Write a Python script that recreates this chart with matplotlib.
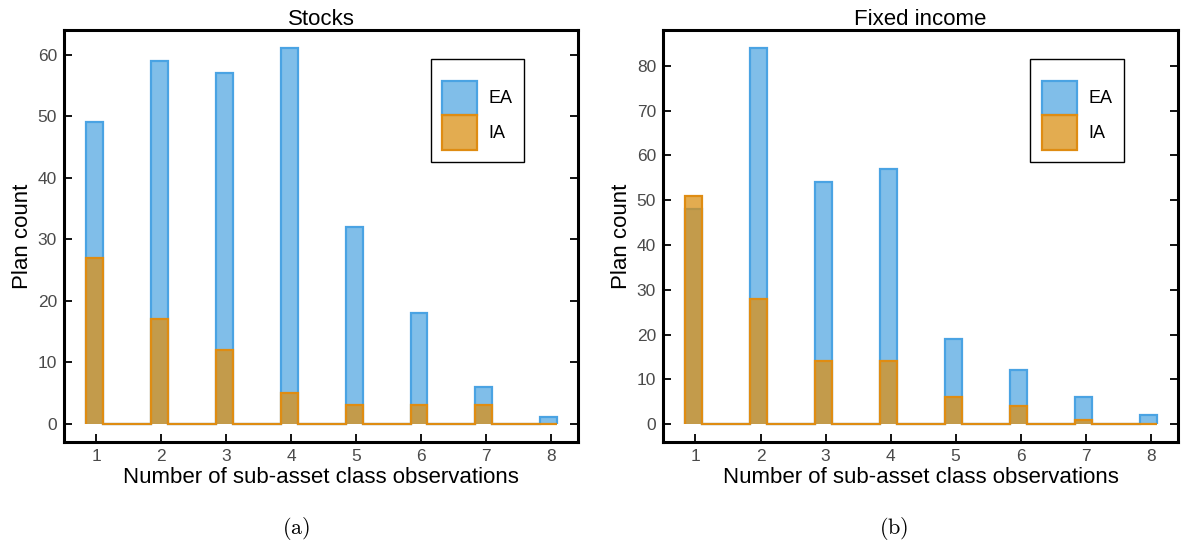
import numpy as np
import matplotlib
matplotlib.use("Agg")
import matplotlib.pyplot as plt

plt.rcParams['font.family'] = ['Liberation Sans', 'DejaVu Sans']
plt.rcParams['mathtext.fontset'] = 'cm'

# Counts per number of sub-asset class observations
observations = [1, 2, 3, 4, 5, 6, 7, 8]
stocks_ea = [49, 59, 57, 61, 32, 18, 6, 1]
stocks_ia = [27, 17, 12, 5, 3, 3, 3, 0]
fixed_ea = [48, 84, 54, 57, 19, 12, 6, 2]
fixed_ia = [51, 28, 14, 14, 6, 4, 1, 0]

EA_FACE = (0.29, 0.64, 0.88, 0.70)
EA_EDGE = '#4aa3e3'
IA_FACE = (0.855, 0.565, 0.086, 0.75)
IA_EDGE = '#df8c12'


def bar_steps(counts, lo=0.16, hi=0.10):
    # narrow bins around each integer, zero-height gaps in between
    edges, values = [], []
    for i, (k, c) in enumerate(zip(observations, counts)):
        edges += [k - lo, k + hi]
        values.append(c)
        if i < len(counts) - 1:
            values.append(0)
    return np.array(values, dtype=float), np.array(edges)


def draw_panel(ax, ea, ia, title, ylim, yticks):
    v, e = bar_steps(ea)
    ax.stairs(v, e, fill=True, facecolor=EA_FACE, edgecolor=EA_EDGE,
              linewidth=1.6, label='EA')
    v, e = bar_steps(ia)
    ax.stairs(v, e, fill=True, facecolor=IA_FACE, edgecolor=IA_EDGE,
              linewidth=1.6, label='IA')

    ax.set_xlim(0.5, 8.42)
    ax.set_ylim(*ylim)
    ax.set_xticks(observations)
    ax.set_yticks(yticks)
    ax.tick_params(direction='in', length=6, width=1.3, labelsize=12.5,
                   labelcolor='#4a4a4a', right=True, top=False, pad=5)
    for s in ax.spines.values():
        s.set_linewidth(2.2)
    ax.set_title(title, fontsize=16, pad=0)
    ax.set_xlabel('Number of sub-asset class observations', fontsize=16, labelpad=2)
    ax.set_ylabel('Plan count', fontsize=16, labelpad=3)

    leg = ax.legend(loc='upper right', bbox_to_anchor=(0.895, 0.93), fontsize=13,
                    handlelength=1.95, handleheight=2.6, labelspacing=0.0,
                    handletextpad=0.6, borderpad=0.65, borderaxespad=0.0,
                    title=' ', title_fontsize=7, fancybox=False,
                    framealpha=1.0, edgecolor='black')
    leg.get_frame().set_linewidth(1.0)


fig = plt.figure(figsize=(11.82, 5.49), dpi=100)
ax1 = fig.add_axes([0.0541, 0.1949, 0.4349, 0.7505])
ax2 = fig.add_axes([0.5609, 0.1949, 0.4357, 0.7505])

draw_panel(ax1, stocks_ea, stocks_ia, 'Stocks', (-3, 64), range(0, 61, 10))
draw_panel(ax2, fixed_ea, fixed_ia, 'Fixed income', (-4, 88), range(0, 81, 10))

fig.text(0.2504, 0.038, r'$\mathrm{(a)}$', ha='center', va='center', fontsize=16)
fig.text(0.7563, 0.038, r'$\mathrm{(b)}$', ha='center', va='center', fontsize=16)

fig.savefig('out.png', dpi=100)
